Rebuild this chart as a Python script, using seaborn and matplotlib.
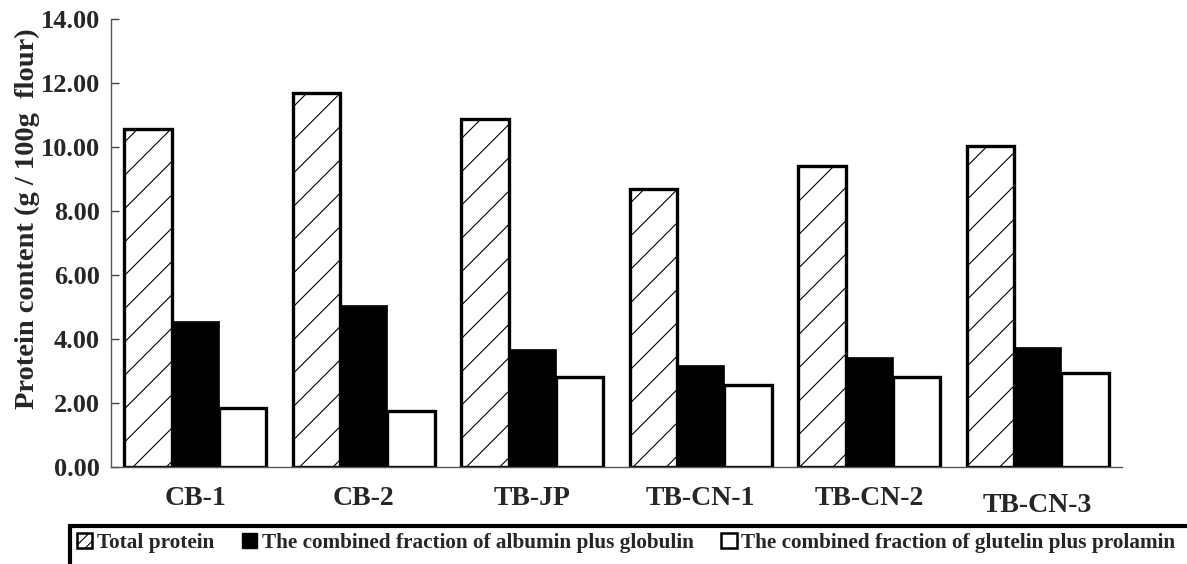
import numpy as np
import pandas as pd
import seaborn as sns
import matplotlib.pyplot as plt
from matplotlib.patches import Patch, Rectangle

samples = ['CB-1', 'CB-2', 'TB-JP', 'TB-CN-1', 'TB-CN-2', 'TB-CN-3']
total_protein = [10.56, 11.70, 10.86, 8.68, 9.41, 10.03]
albumin_globulin = [4.57, 5.06, 3.69, 3.19, 3.45, 3.76]
glutelin_prolamin = [1.84, 1.76, 2.80, 2.55, 2.80, 2.95]
series = ['Total protein',
          'The combined fraction of albumin plus globulin',
          'The combined fraction of glutelin plus prolamin']
yticks = [0, 2, 4, 6, 8, 10, 12, 14]

df = pd.DataFrame({
    'sample': samples * 3,
    'fraction': np.repeat(series, len(samples)),
    'value': total_protein + albumin_globulin + glutelin_prolamin,
})

sns.set_style('white')
plt.rcParams['font.family'] = ['Liberation Serif', 'DejaVu Serif']
plt.rcParams['font.weight'] = 'bold'
plt.rcParams['hatch.linewidth'] = 0.8

fig = plt.figure(figsize=(11.87, 5.64), dpi=100)
ax = fig.add_axes([111/1187, 1 - 467/564, 1011/1187, 448/564])

sns.barplot(data=df, x='sample', y='value', hue='fraction', order=samples,
            hue_order=series, palette=['white', 'black', 'white'],
            width=0.84, gap=0, saturation=1, legend=False, ax=ax)

styles = [dict(hatch='/', lw=2.4), dict(hatch=None, lw=0.5), dict(hatch=None, lw=2.4)]
for cont, st in zip(ax.containers, styles):
    for bar in cont:
        bar.set_edgecolor('black')
        bar.set_linewidth(st['lw'])
        if st['hatch']:
            bar.set_hatch(st['hatch'])

ax.set_ylim(0, 14)
ax.set_xlim(-0.5, len(samples) - 0.5)
ax.set_yticks(yticks)
ax.set_yticklabels([f'{v:.2f}' for v in yticks], fontsize=19, fontweight='bold')
ax.set_xticks(range(len(samples)))
ax.set_xticklabels(samples, fontsize=20, fontweight='bold')
ax.set_xticks(np.arange(0.5, len(samples) - 0.5), minor=True)
ax.tick_params(axis='x', which='major', length=0, pad=14)
ax.tick_params(axis='x', which='minor', direction='in', length=7, width=1, color='#444')
ax.tick_params(axis='y', direction='in', length=6, width=1, color='#444', pad=8, left=True)
ax.xaxis.get_major_ticks()[5].set_pad(19)

ax.set_xlabel('')
ax.set_ylabel('Protein content (g / 100g  flour)', fontsize=20.5, fontweight='bold')
ax.yaxis.set_label_coords(-0.070, 0.555)

for side in ['top', 'right']:
    ax.spines[side].set_visible(False)
for side in ['left', 'bottom']:
    ax.spines[side].set_color('#555')
    ax.spines[side].set_linewidth(1)

# legend box below the plot, running off the right edge
fig.add_artist(Rectangle((70/1187, -0.1), 1.2, 0.1 + 1 - 526/564,
                         transform=fig.transFigure, fill=False,
                         edgecolor='black', lw=3, clip_on=False))

handles = [Patch(facecolor='white', edgecolor='black', hatch='///', lw=1.8),
           Patch(facecolor='black', edgecolor='black', lw=1),
           Patch(facecolor='white', edgecolor='black', lw=1.8)]
fig.legend(handles, series, loc='center left', bbox_to_anchor=(77/1187, 1 - 543/564),
           ncol=3, frameon=False, handlelength=0.72, handleheight=0.72,
           handletextpad=0.22, columnspacing=1.3, borderpad=0, borderaxespad=0,
           prop={'family': 'Liberation Serif', 'weight': 'bold', 'size': 15.3})

fig.savefig('out.png', dpi=100)
